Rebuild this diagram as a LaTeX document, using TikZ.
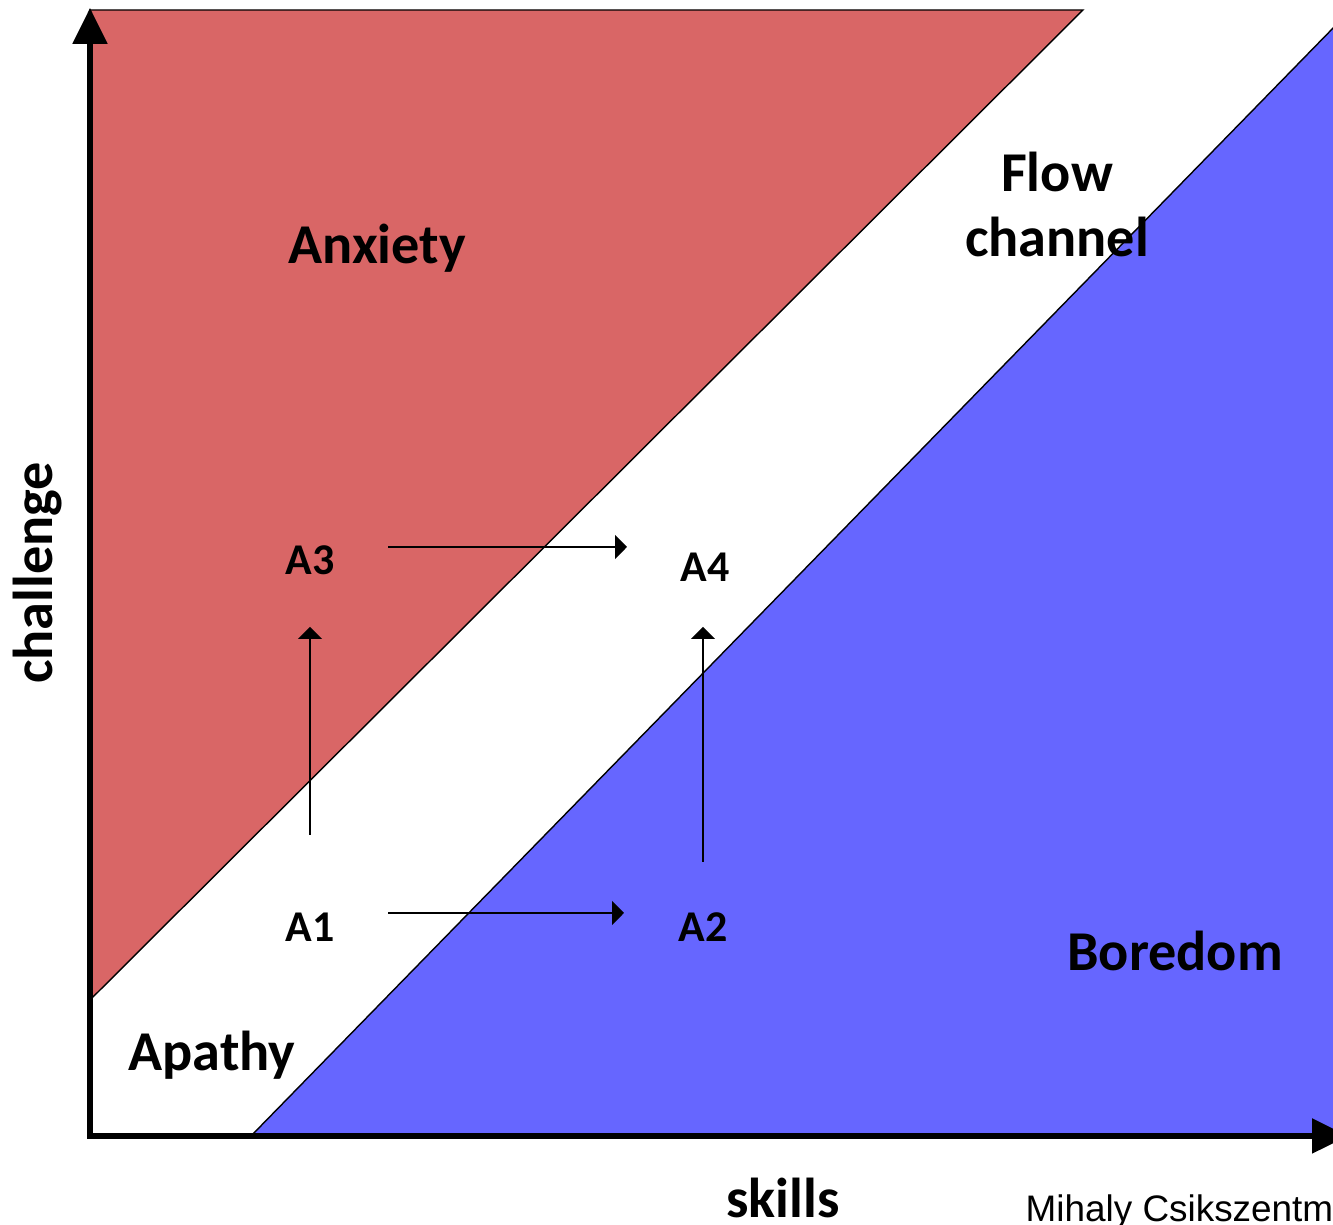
\documentclass[tikz,border=0pt]{standalone}
\usepackage{fontspec}
\setmainfont{Carlito}
\newfontfamily\creditfont{Liberation Sans}
\usetikzlibrary{arrows.meta}
\definecolor{anxietyred}{RGB}{217,102,102}
\definecolor{boredomblue}{RGB}{102,102,255}

\begin{document}
\begin{tikzpicture}[
  zone/.style={font=\bfseries\fontsize{16}{18.5}\selectfont, inner sep=0pt},
  state/.style={font=\bfseries\fontsize{12.5}{15}\selectfont, inner sep=0pt},
  axis/.style={line width=1.5pt, -{Triangle[width=3.4mm,length=3.6mm]}},
  move/.style={draw, line width=0.4pt, -{Triangle[width=2.4mm,length=1.2mm]}}
]
\clip (0,0) rectangle (13.33,12.25);
\useasboundingbox (0,0) rectangle (13.33,12.25);
% regions
\path[draw=black, line width=0.4pt, fill=anxietyred] (0.90,12.15) -- (10.83,12.15) -- (0.92,2.27) -- cycle;
\path[draw=black, line width=0.4pt, fill=boredomblue] (2.52,0.90) -- (13.40,12.04) -- (13.40,0.90) -- cycle;
% axes
\coordinate (o) at (0.90,0.89);
\coordinate (ytip) at (0.90,12.17);
\coordinate (xtip) at (13.48,0.89);
\path[draw,axis] (0.90,0.86) -- (ytip);
\path[draw,axis] (0.88,0.89) -- (xtip);
% labels
\node[zone, anchor=base] (anx) at (3.77,9.61) {Anxiety};
\node[zone, anchor=base, align=center] (flow) at (10.57,9.68) {Flow\\channel};
\node[zone, anchor=base] (bor) at (11.75,2.54) {Boredom};
\node[zone, anchor=base] (apa) at (2.12,1.54) {Apathy};
\node[zone, anchor=base] (skl) at (7.83,0.07) {skills};
\node[zone, rotate=90] (chl) at (0.38,6.52) {challenge};
\node[anchor=base west, inner sep=0pt, font=\creditfont\fontsize{10.5}{12}\selectfont] (cred) at (10.25,0.03) {Mihaly Csikszentm};
% states
\node[state] (A1) at (3.10,2.98) {A1};
\node[state] (A2) at (7.03,2.98) {A2};
\node[state] (A3) at (3.10,6.65) {A3};
\node[state] (A4) at (7.05,6.58) {A4};
\path[move, shorten <=7.8mm, shorten >=7.9mm] ([yshift=1.4mm]A1.center) -- ([yshift=1.4mm]A1.center -| A2.center);
\path[move, shorten <=7.8mm, shorten >=7.8mm] ([yshift=1.3mm]A3.center) -- ([yshift=1.3mm]A3.center -| A4.center);
\path[move, shorten <=9.2mm, shorten >=6.7mm] (A1.center) -- (A3.center);
\path[move, shorten <=6.5mm, shorten >=6.0mm] (A2.center) -- (A2.center |- A4.center);
\end{tikzpicture}
\end{document}
